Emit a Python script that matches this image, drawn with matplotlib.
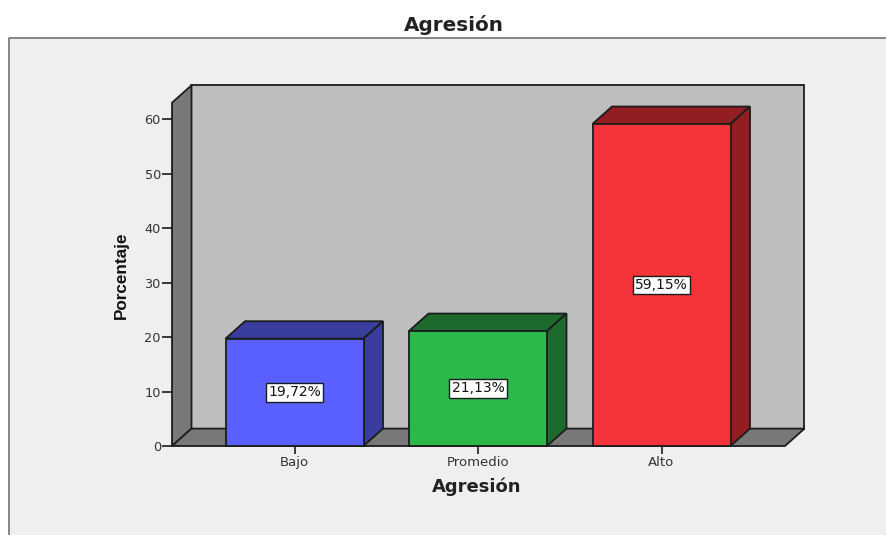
from matplotlib import pyplot as plt
from matplotlib.patches import Polygon, Rectangle

categories = ['Bajo', 'Promedio', 'Alto']
values = [19.72, 21.13, 59.15]
value_labels = ['19,72%', '21,13%', '59,15%']
yticks = [0, 10, 20, 30, 40, 50, 60]
front_colors = ['#5a60ff', '#2db84b', '#f4333b']
dark_colors = ['#383d9e', '#1d6b2c', '#921e22']

W, H = 886, 535
EDGE = '#1c1c1c'
plt.rcParams['font.family'] = ['DejaVu Sans']

fig = plt.figure(figsize=(W / 100, H / 100), dpi=100, facecolor='white')

# grey panel behind the chart, open at the right and the bottom
fig.add_artist(Rectangle((9 / W, 0), (W - 9) / W, (H - 38) / H, transform=fig.transFigure,
                         facecolor='#efefef', edgecolor='none', zorder=-2))
fig.add_artist(plt.Line2D([9 / W, 9 / W, 1], [0, (H - 38) / H, (H - 38) / H], color='#7d7d7d', lw=1.3, zorder=-1))

ax = fig.add_axes([172 / W, (H - 446) / H, (785 - 172) / W, (446 - 102.7) / H])
ax.patch.set_visible(False)
ax.set_xlim(-0.6676, 2.673)
ax.set_ylim(0, 63.05)
for s in ax.spines.values():
    s.set_visible(False)

# depth of the 3d box, in data units
dx = 19.5 / 183.5
dy = 17.4 / 5.445
x0, x1 = ax.get_xlim()
top = ax.get_ylim()[1]


def poly(pts, color, z, edge=EDGE, lw=1.3):
    ax.add_patch(Polygon(pts, closed=True, facecolor=color, edgecolor=edge, linewidth=lw,
                         zorder=z, clip_on=False, joinstyle='miter'))


# back wall, left wall, floor
poly([(x0 + dx, dy), (x1 + dx, dy), (x1 + dx, top + dy), (x0 + dx, top + dy)], '#bebebe', 1)
poly([(x0, 0), (x0 + dx, dy), (x0 + dx, top + dy), (x0, top)], '#787878', 2)
poly([(x0, 0), (x1, 0), (x1 + dx, dy), (x0 + dx, dy)], '#787878', 2)

bar_w = 138 / 183.5
for i, v in enumerate(values):
    l, r = i - bar_w / 2, i + bar_w / 2
    poly([(l, v), (r, v), (r + dx, v + dy), (l + dx, v + dy)], dark_colors[i], 3)
    poly([(r, 0), (r + dx, dy), (r + dx, v + dy), (r, v)], dark_colors[i], 3)
    poly([(l, 0), (r, 0), (r, v), (l, v)], front_colors[i], 4)
    ax.text(i, v / 2, value_labels[i], ha='center', va='center', fontsize=10, color='#111111', zorder=5,
            bbox=dict(boxstyle='square,pad=0.16', facecolor='white', edgecolor=EDGE, linewidth=1))

ax.set_yticks(yticks)
ax.set_xticks(range(len(categories)))
ax.set_xticklabels(categories)
ax.tick_params(axis='y', length=7, width=1.2, color=EDGE, labelsize=9.3, labelcolor='#333333', pad=1)
ax.tick_params(axis='x', length=6, width=1.2, color=EDGE, labelsize=9.5, labelcolor='#333333', pad=1)

fig.text(454 / W, 1 - 25 / H, 'Agresión', ha='center', va='center', fontsize=14.4, fontweight='bold', color='#222222')
fig.text(477 / W, 1 - 487 / H, 'Agresión', ha='center', va='center', fontsize=13, fontweight='bold', color='#222222')
fig.text(121 / W, 1 - 275 / H, 'Porcentaje', ha='center', va='center', rotation=90, fontsize=12.3,
         fontweight='bold', color='#111111', family=['Liberation Sans'])

fig.savefig('out.png', dpi=100)
